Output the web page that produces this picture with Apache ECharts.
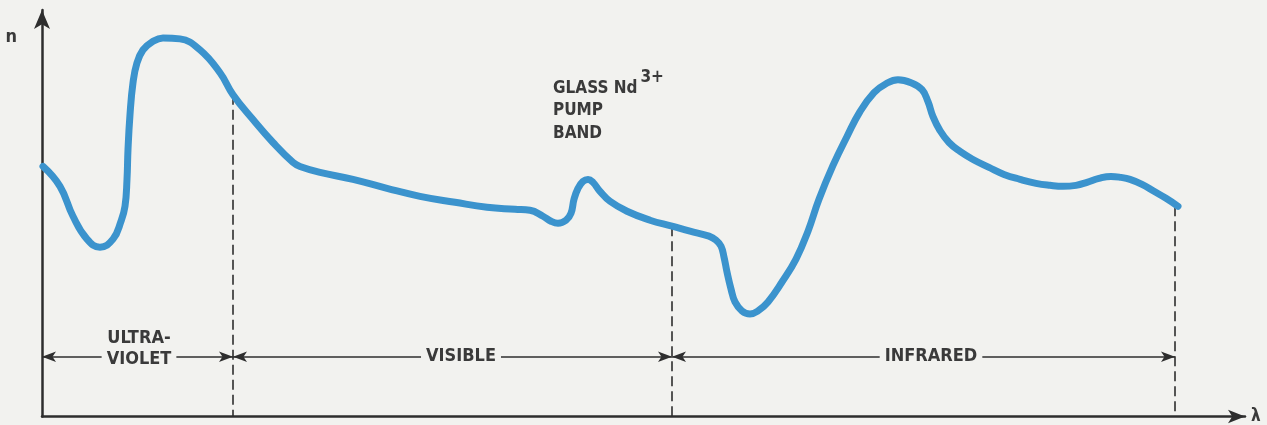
<!DOCTYPE html>
<html>
<head>
<meta charset="utf-8">
<script src="https://cdn.jsdelivr.net/npm/echarts@6/dist/echarts.min.js"></script>
<style>
  html, body { margin: 0; padding: 0; background: #f2f2ef; }
  #chart { width: 1267px; height: 425px; }
</style>
</head>
<body>
<div id="chart"></div>
<script>
// Wavelength (arbitrary units) and refractive index n (arbitrary units)
const lambda = [1, 18, 31, 45, 58, 71, 79, 83, 85, 86, 88, 91, 95, 101, 110, 121, 138, 158, 178, 191,
  211, 231, 251, 258, 278, 311, 345, 378, 413, 445, 473, 488, 501, 509, 516, 524, 529, 532, 536, 541,
  546, 551, 558, 568, 585, 608, 630, 648, 667, 674, 679, 682, 685, 689, 693, 700, 708, 716, 726, 740,
  754, 766, 777, 791, 805, 818, 832, 844, 856, 869, 880, 886, 891, 898, 907, 918, 931, 947, 962, 978,
  994, 1008, 1021, 1034, 1045, 1057, 1069, 1079, 1088, 1100, 1112, 1124, 1136];
const nValues = [251, 231, 201, 178, 170, 178, 196, 211, 238, 268, 303, 335, 355, 368, 376, 380, 379, 368, 345, 323,
  298, 275, 255, 251, 245, 238, 229, 221, 215, 210, 208, 207, 201, 196, 194, 197, 204, 218, 229, 236,
  238, 235, 226, 216, 206, 197, 191, 186, 181, 177, 171, 160, 145, 128, 115, 106, 103, 106, 115, 135,
  158, 186, 218, 252, 281, 306, 325, 334, 338, 335, 328, 316, 301, 287, 275, 266, 258, 250, 243, 238,
  234, 232, 231, 232, 235, 239, 241, 240, 238, 233, 226, 219, 211];

// Region boundaries on the wavelength axis and region labels
const boundaries = [0, 191, 630, 1133];
const regionNames = ['ULTRA-\nVIOLET', 'VISIBLE', 'INFRARED'];
const regionLabelX = [97, 419, 889];
const arrowLevel = 60;

// Pump band annotation
const pumpText = ['GLASS Nd', '3+', 'PUMP', 'BAND'];
const pumpPos = [511, 349];

const BG = '#f2f2ef';
const INK = '#2e2e2e';
const TXT = '#3a3a3a';
const FONT = "'DejaVu Sans Condensed', 'DejaVu Sans'";

const curve = lambda.map((x, i) => [x, nValues[i]]);

function nAt(x) {
  let best = 0;
  for (let i = 1; i < lambda.length; i++) {
    if (Math.abs(lambda[i] - x) < Math.abs(lambda[best] - x)) best = i;
  }
  return nValues[best];
}

const dashed = boundaries.slice(1).map(b => [
  { coord: [b, nAt(b)] }, { coord: [b, 0] }
]);
const arrows = [];
for (let i = 0; i < regionNames.length; i++) {
  arrows.push([{ coord: [boundaries[i], arrowLevel] }, { coord: [boundaries[i + 1], arrowLevel] }]);
}

const labelData = regionNames.map((name, i) => {
  if (name.indexOf('\n') >= 0) {
    const parts = name.split('\n');
    return {
      value: [regionLabelX[i], arrowLevel],
      label: {
        formatter: '{u|' + parts[0] + '}\n{v|' + parts[1] + '}',
        offset: [0, -8]
      }
    };
  }
  return {
    value: [regionLabelX[i], arrowLevel],
    label: { formatter: '{v|' + name + '}' }
  };
});
labelData.push({
  value: pumpPos,
  label: {
    align: 'left',
    verticalAlign: 'top',
    formatter: '{g1|' + pumpText[0] + '}{s|' + pumpText[1] + '}\n{g|' + pumpText[2] + '}\n{g|' + pumpText[3] + '}'
  }
});

const txt = { fontFamily: FONT, fontWeight: 'bold', color: TXT };

const chart = echarts.init(document.getElementById('chart'), null, { renderer: 'canvas' });
chart.setOption({
  backgroundColor: BG,
  animation: false,
  grid: { left: 42, right: 22, top: 10, bottom: 7 },
  xAxis: {
    type: 'value', min: 0, max: 1203,
    axisLine: { show: true, symbol: ['none', 'arrow'], symbolSize: [10, 17], lineStyle: { color: INK, width: 2.5 } },
    axisTick: { show: false }, axisLabel: { show: false }, splitLine: { show: false },
    name: 'λ', nameLocation: 'end', nameGap: 6,
    nameTextStyle: Object.assign({ fontSize: 17, verticalAlign: 'middle', padding: [2, 0, 0, 0] }, txt)
  },
  yAxis: {
    type: 'value', min: 0, max: 408,
    axisLine: { show: true, symbol: ['none', 'arrow'], symbolSize: [12, 19], lineStyle: { color: INK, width: 2.5 } },
    axisTick: { show: false }, axisLabel: { show: false }, splitLine: { show: false },
    name: 'n', nameLocation: 'end', nameGap: -27,
    nameTextStyle: Object.assign({ fontSize: 18, align: 'right', verticalAlign: 'middle', padding: [0, 25, 0, 0] }, txt)
  },
  series: [
    {
      type: 'line', name: 'n', data: curve, smooth: 0.45,
      symbol: 'none', lineStyle: { color: '#3b93cd', width: 7, cap: 'round', join: 'round' }, z: 5
    },
    {
      type: 'line', data: [], symbol: 'none',
      markLine: {
        silent: true, animation: false, symbol: ['none', 'none'],
        label: { show: false },
        lineStyle: { color: INK, width: 1.6, type: [10, 5] },
        data: dashed
      }
    },
    {
      type: 'line', data: [], symbol: 'none',
      markLine: {
        silent: true, animation: false, symbol: ['arrow', 'arrow'], symbolSize: [8, 14],
        label: { show: false },
        lineStyle: { color: INK, width: 1.6, type: 'solid' },
        data: arrows
      }
    },
    {
      type: 'scatter', symbolSize: 0, clip: false, silent: true, z: 10,
      itemStyle: { opacity: 1 },
      label: Object.assign({
        show: true, position: 'inside', fontSize: 18, opacity: 1,
        rich: {
          u: Object.assign({ fontSize: 18, lineHeight: 20.5 }, txt),
          v: Object.assign({ fontSize: 18, lineHeight: 20.5, backgroundColor: BG, padding: [0, 5] }, txt),
          g1: Object.assign({ fontSize: 17, lineHeight: 28, verticalAlign: 'bottom' }, txt),
          s: Object.assign({ fontSize: 17, lineHeight: 16, verticalAlign: 'top', padding: [0, 0, 0, 3] }, txt),
          g: Object.assign({ fontSize: 17, lineHeight: 22.5, verticalAlign: 'bottom' }, txt)
        }
      }, txt),
      data: labelData
    }
  ]
});
</script>
</body>
</html>
